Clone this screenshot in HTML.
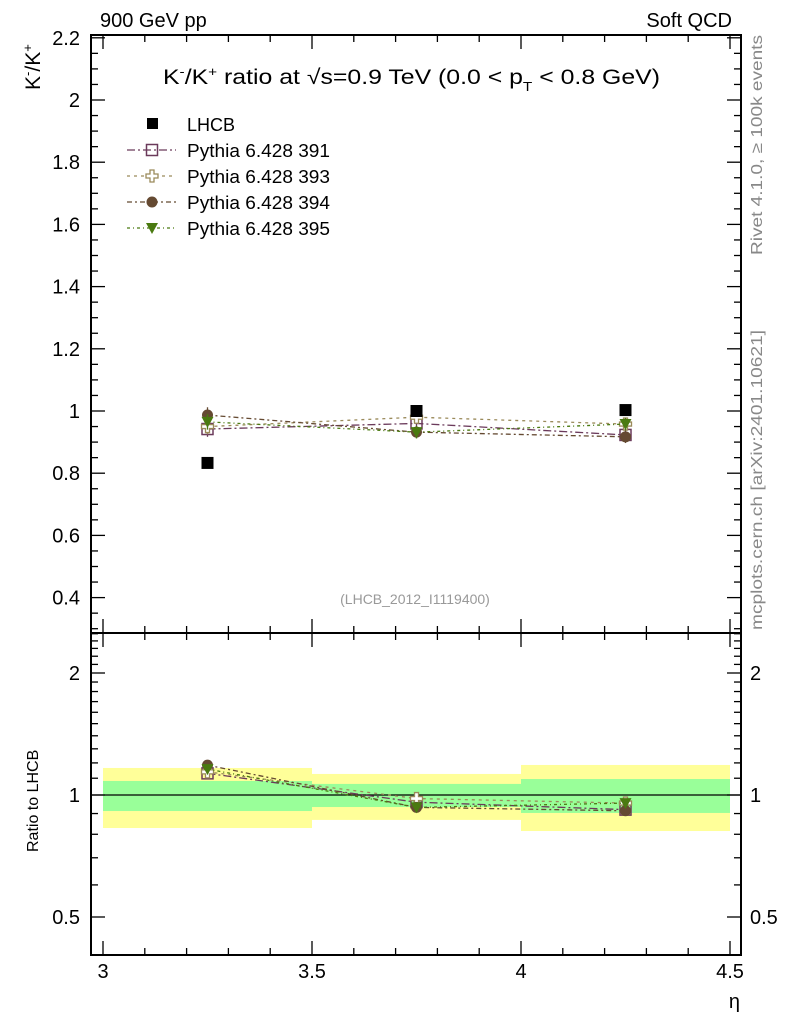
<!DOCTYPE html>
<html><head><meta charset="utf-8"><style>
body{margin:0;background:#fff}
svg{display:block;font-family:"Liberation Sans",sans-serif}
</style></head><body>
<svg id="chart" width="786" height="1024" viewBox="0 0 786 1024" xmlns="http://www.w3.org/2000/svg">
<g id="bands"></g>
<g id="grid"></g>
<g id="series"></g>
<text x="100" y="27" font-size="20">900 GeV pp</text>
<text x="732" y="27" font-size="20" text-anchor="end">Soft QCD</text>
<text x="163" y="84" font-size="21" textLength="497" lengthAdjust="spacingAndGlyphs">K<tspan dy="-8" font-size="13">-</tspan><tspan dy="8">/K</tspan><tspan dy="-8" font-size="13">+</tspan><tspan dy="8"> ratio at √s=0.9 TeV (0.0 &lt; p</tspan><tspan dy="7" font-size="13">T</tspan><tspan dy="-7"> &lt; 0.8 GeV)</tspan></text>
<text transform="translate(40,90) rotate(-90)" font-size="21">K<tspan dy="-8" font-size="13">-</tspan><tspan dy="8">/K</tspan><tspan dy="-8" font-size="13">+</tspan></text>
<text transform="translate(38,852) rotate(-90)" font-size="16">Ratio to LHCB</text>
<text x="740" y="1008" font-size="20" text-anchor="end">η</text>
<text x="415" y="604" font-size="14" fill="#999" text-anchor="middle">(LHCB_2012_I1119400)</text>
<text transform="translate(762,255) rotate(-90)" font-size="16" fill="#888" textLength="220" lengthAdjust="spacingAndGlyphs">Rivet 4.1.0, ≥ 100k events</text>
<text transform="translate(762,630) rotate(-90)" font-size="16" fill="#888" textLength="300" lengthAdjust="spacingAndGlyphs">mcplots.cern.ch [arXiv:2401.10621]</text>
<g id="legend"></g>
</svg>
<script>
const xCenters=[3.25,3.75,4.25];
const xEdges=[3.0,3.5,4.0,4.5];
const lhcb=[0.833,1.0,1.003];
const totLow=[0.829,0.868,0.815];
const totHigh=[1.166,1.127,1.186];
const statLow=[0.913,0.934,0.903];
const statHigh=[1.083,1.065,1.095];
const py391=[0.942,0.96,0.923];
const py393=[0.95,0.98,0.958];
const py394=[0.987,0.932,0.917];
const py395=[0.965,0.932,0.958];
const mcErr=[0.025,0.02,0.02];
const xTicks=[3,3.5,4,4.5];
const yTicks=[0.4,0.6,0.8,1,1.2,1.4,1.6,1.8,2,2.2];
const rTicks=[0.5,1,2];

const NS="http://www.w3.org/2000/svg";
const L=91,R=741,T=35,M=633,B=955;
const X=v=>103+(v-3)*418;
const Y=v=>411-(v-1)*311;
const RY=v=>795-122*Math.log2(v);
function el(parent,tag,attrs){const e=document.createElementNS(NS,tag);for(const k in attrs)e.setAttribute(k,attrs[k]);parent.appendChild(e);return e;}
const bands=document.getElementById('bands'),grid=document.getElementById('grid'),series=document.getElementById('series'),legend=document.getElementById('legend');

for(let i=0;i<3;i++){
 const x0=X(xEdges[i]),x1=X(xEdges[i+1]);
 const y1=el(bands,'rect',{x:x0,y:RY(totHigh[i]),width:x1-x0,height:RY(totLow[i])-RY(totHigh[i]),fill:'#ffff99'});
 
 
 const g1=el(bands,'rect',{x:x0,y:RY(statHigh[i]),width:x1-x0,height:RY(statLow[i])-RY(statHigh[i]),fill:'#99ff99'});
 
 
}
el(grid,'line',{x1:L,x2:R,y1:RY(1),y2:RY(1),stroke:'#000','stroke-width':1.3});
el(grid,'rect',{x:L,y:T,width:R-L,height:M-T,fill:'none',stroke:'#000','stroke-width':2});
el(grid,'rect',{x:L,y:M,width:R-L,height:B-M,fill:'none',stroke:'#000','stroke-width':2});
for(let v=3;v<=4.5001;v+=0.1){
 const maj=xTicks.some(t=>Math.abs(t-v)<1e-6),len=maj?14:7,x=X(v);
 [T,M].forEach(y=>el(grid,'line',{x1:x,x2:x,y1:y,y2:y+len,stroke:'#000','stroke-width':1.3}));
 [M,B].forEach(y=>el(grid,'line',{x1:x,x2:x,y1:y,y2:y-len,stroke:'#000','stroke-width':1.3}));
}
xTicks.forEach(v=>{const t=el(grid,'text',{x:X(v),y:978,'font-size':20,'text-anchor':'middle'});t.textContent=v;
 
 });
for(let v=0.3;v<=2.2001;v+=0.05){
 const maj=yTicks.some(t=>Math.abs(t-v)<1e-6),len=maj?14:7,y=Y(v);
 if(y<T||y>M)continue;
 el(grid,'line',{x1:L,x2:L+len,y1:y,y2:y,stroke:'#000','stroke-width':1.3});
 el(grid,'line',{x1:R,x2:R-len,y1:y,y2:y,stroke:'#000','stroke-width':1.3});
}
yTicks.forEach(v=>{const t=el(grid,'text',{x:80,y:Y(v)+7,'font-size':20,'text-anchor':'end'});t.textContent=String(Math.round(v*10)/10);
 
 });
for(let v=0.5;v<=2.5001;v+=0.1){
 const maj=rTicks.some(t=>Math.abs(t-v)<1e-6),len=maj?14:7,y=RY(v);
 if(y<M||y>B)continue;
 el(grid,'line',{x1:L,x2:L+len,y1:y,y2:y,stroke:'#000','stroke-width':1.3});
 el(grid,'line',{x1:R,x2:R-len,y1:y,y2:y,stroke:'#000','stroke-width':1.3});
}
rTicks.forEach(v=>{[[80,'end'],[750,'start']].forEach(([x,a])=>{const t=el(grid,'text',{x:x,y:RY(v)+7,'font-size':20,'text-anchor':a});t.textContent=v;
 
 });});

const defs=[
 {d:py391,c:'#6b3a5b',m:'sq',dash:'8,3,2,3',name:'pythia-391'},
 {d:py393,c:'#9a8a5a',m:'cross',dash:'3,4',name:'pythia-393'},
 {d:py394,c:'#654a32',m:'circ',dash:'5,3,2,3',name:'pythia-394'},
 {d:py395,c:'#4a7a10',m:'tri',dash:'3,3,1,3',name:'pythia-395'}];
function marker(g,m,x,y,c){
 if(m==='sq')el(g,'rect',{x:x-5.5,y:y-5.5,width:11,height:11,fill:'none',stroke:c,'stroke-width':1.5});
 else if(m==='cross')el(g,'path',{d:`M${x-2},${y-6}h4v4h4v4h-4v4h-4v-4h-4v-4h4z`,fill:'#fff',stroke:c,'stroke-width':1.3});
 else if(m==='circ')el(g,'circle',{cx:x,cy:y,r:5.5,fill:c});
 else el(g,'path',{d:`M${x-6},${y-5}h12l-6,11z`,fill:c});
}
defs.forEach(s=>{
 const g=el(series,'g',{});
 
 
 const ratio=s.d.map((v,i)=>v/lhcb[i]);
 el(g,'polyline',{points:s.d.map((v,i)=>X(xCenters[i])+','+Y(v)).join(' '),fill:'none',stroke:s.c,'stroke-width':1.3,'stroke-dasharray':s.dash});
 el(g,'polyline',{points:ratio.map((v,i)=>X(xCenters[i])+','+RY(v)).join(' '),fill:'none',stroke:s.c,'stroke-width':1.3,'stroke-dasharray':s.dash});
 s.d.forEach((v,i)=>{const x=X(xCenters[i]);
  el(g,'line',{x1:x,x2:x,y1:Y(v+mcErr[i]),y2:Y(v-mcErr[i]),stroke:s.c,'stroke-width':1.3});
  marker(g,s.m,x,Y(v),s.c);
  const r=ratio[i];
  el(g,'line',{x1:x,x2:x,y1:RY(r*(1+mcErr[i])),y2:RY(r*(1-mcErr[i])),stroke:s.c,'stroke-width':1.3});
  marker(g,s.m,x,RY(r),s.c);});
});
const dg=el(series,'g',{});


lhcb.forEach((v,i)=>{el(dg,'rect',{x:X(xCenters[i])-6,y:Y(v)-6,width:12,height:12,fill:'#000'});});

const ly=[124,150,176,202,228];
el(legend,'rect',{x:147,y:ly[0]-6,width:11,height:11,fill:'#000'});
const lt=el(legend,'text',{x:187,y:ly[0]+7,'font-size':18});lt.textContent='LHCB';
defs.forEach((s,i)=>{const y=ly[i+1];
 el(legend,'line',{x1:127,x2:176,y1:y,y2:y,stroke:s.c,'stroke-width':1.3,'stroke-dasharray':s.dash});
 marker(legend,s.m,152,y,s.c);
 const t=el(legend,'text',{x:187,y:y+7,'font-size':18,textLength:143,lengthAdjust:'spacingAndGlyphs'});t.textContent='Pythia 6.428 '+s.name.slice(-3);
 
 });
</script>
</body></html>
